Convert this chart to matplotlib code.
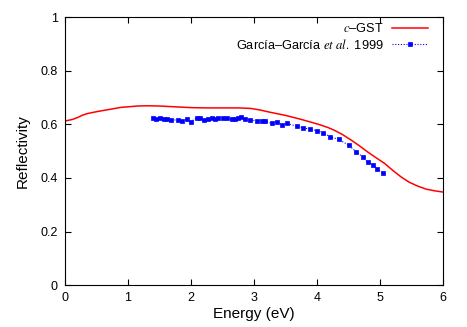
import matplotlib
matplotlib.use("Agg")
import matplotlib.pyplot as plt

plt.rcParams['font.family'] = ['Liberation Sans', 'DejaVu Sans']
plt.rcParams['mathtext.fontset'] = 'stix'

# c-GST calculated reflectivity
gst_energy = [0.0, 0.12, 0.2, 0.28, 0.36, 0.44, 0.55, 0.65, 0.77, 0.89, 1.0, 1.15,
              1.3, 1.5, 1.75, 2.0, 2.25, 2.5, 2.75, 2.95, 3.1, 3.25, 3.5, 3.75,
              3.9, 4.06, 4.17, 4.27, 4.4, 4.54, 4.67, 4.8, 4.93, 5.07, 5.2, 5.33,
              5.46, 5.6, 5.73, 5.86, 6.0]
gst_refl = [0.612, 0.618, 0.625, 0.634, 0.64, 0.644, 0.649, 0.653, 0.658, 0.663,
            0.665, 0.668, 0.669, 0.668, 0.665, 0.662, 0.661, 0.661, 0.661, 0.659,
            0.653, 0.645, 0.633, 0.618, 0.608, 0.597, 0.588, 0.578, 0.562, 0.541,
            0.52, 0.497, 0.476, 0.454, 0.428, 0.404, 0.384, 0.369, 0.358, 0.352,
            0.347]

# Garcia-Garcia et al. 1999 experimental data
exp_energy = [1.39, 1.45, 1.51, 1.57, 1.62, 1.69, 1.80, 1.85, 1.93, 2.0, 2.09, 2.14,
              2.2, 2.27, 2.33, 2.38, 2.43, 2.51, 2.57, 2.65, 2.7, 2.75, 2.8, 2.85,
              2.94, 3.04, 3.12, 3.17, 3.28, 3.36, 3.44, 3.52, 3.68, 3.78, 3.89, 4.0,
              4.1, 4.21, 4.34, 4.5, 4.62, 4.73, 4.8, 4.89, 4.95, 5.05]
exp_refl = [0.622, 0.62, 0.622, 0.618, 0.62, 0.616, 0.616, 0.612, 0.618, 0.61, 0.624,
            0.622, 0.616, 0.62, 0.622, 0.62, 0.622, 0.622, 0.624, 0.618, 0.62, 0.624,
            0.628, 0.618, 0.616, 0.613, 0.613, 0.613, 0.603, 0.61, 0.597, 0.603,
            0.593, 0.587, 0.581, 0.576, 0.568, 0.553, 0.544, 0.522, 0.497, 0.477,
            0.458, 0.448, 0.432, 0.419]

fig = plt.figure(figsize=(4.67, 3.27), dpi=100)
ax = fig.add_axes([0.139, 0.128, 0.81, 0.82])

ax.plot(gst_energy, gst_refl, color='#ff0000', lw=1.1, label=r'$c$' + '\u2013GST')
ax.plot(exp_energy, exp_refl, color='#0000ff', lw=0.8, linestyle=(0, (1, 1.5)),
        marker='s', markersize=3.2, markeredgewidth=0.5,
        label='Garc\u00eda\u2013Garc\u00eda ' + r'$et\ al.$' + ' 1999')

ax.set_xlim(0, 6)
ax.set_ylim(0, 1)
ax.set_xticks(range(7))
ax.set_yticks([0, 0.2, 0.4, 0.6, 0.8, 1])
ax.set_yticklabels(['0', '0.2', '0.4', '0.6', '0.8', '1'])
ax.tick_params(direction='in', top=True, right=True, labelsize=9, length=4, pad=5)
ax.set_xlabel('Energy (eV)', fontsize=11, labelpad=2)
ax.set_ylabel('Reflectivity', fontsize=11, labelpad=8)

leg = ax.legend(loc='upper right', bbox_to_anchor=(0.96, 0.98), frameon=False,
                fontsize=9.2, markerfirst=False, handlelength=2.8, borderpad=0,
                labelspacing=0.2, handletextpad=0.7, borderaxespad=0)
for t in leg.get_texts():
    t.set_ha('right')

fig.savefig('out.png', dpi=100)
